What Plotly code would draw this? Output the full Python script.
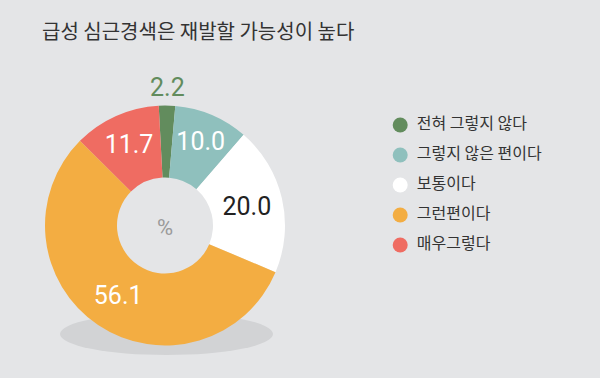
import math
import plotly.graph_objects as go

title_text = "급성 심근경색은 재발할 가능성이 높다"
categories = ["전혀 그렇지 않다", "그렇지 않은 편이다", "보통이다", "그런편이다", "매우그렇다"]
values = [2.2, 10.0, 20.0, 56.1, 11.7]
colors = ["#628c5d", "#8fc0bd", "#ffffff", "#f3ad42", "#ef6c62"]
text_colors = ["#628c5d", "#ffffff", "#222222", "#ffffff", "#ffffff"]
center_label = "%"

BG = "#e4e5e7"
NUM_FONT = "Roboto, sans-serif"
KR_FONT = "Noto Sans CJK KR, Noto Sans, sans-serif"

W, H = 600, 378
ROT = -3.0
dom_x = [0.075, 0.475]
dom_y = [0.086, 0.721]

# small slices get their label outside (placed along the slice's mid-angle)
inside = [v >= 5 for v in values]
texts = [f"{v:.1f}" if ins else "" for v, ins in zip(values, inside)]

fig = go.Figure()
fig.add_trace(go.Pie(
    labels=categories, values=values, sort=False, direction="clockwise",
    rotation=ROT, hole=0.4,
    marker=dict(colors=colors, line=dict(width=0)),
    text=texts, textinfo="text", textposition="inside",
    insidetextorientation="horizontal",
    textfont=dict(family=NUM_FONT, size=25, color=text_colors),
    title=dict(text=center_label, position="middle center",
               font=dict(family=NUM_FONT, size=22, color="#9a9a9a")),
    domain=dict(x=dom_x, y=dom_y),
    showlegend=False, hoverinfo="label+value",
))

# outside labels computed from the data (mid-angle of the slice)
total = sum(values)
cx = (dom_x[0] + dom_x[1]) / 2 * W
cy = (dom_y[0] + dom_y[1]) / 2 * H
R = min((dom_x[1] - dom_x[0]) * W, (dom_y[1] - dom_y[0]) * H) / 2
cum = 0.0
for v, ins, tc in zip(values, inside, text_colors):
    mid = math.radians(ROT + 360 * (cum + v / 2) / total)
    cum += v
    if ins:
        continue
    rr = R + 18
    fig.add_annotation(
        x=(cx + rr * math.sin(mid)) / W, y=(cy + rr * math.cos(mid)) / H,
        xref="paper", yref="paper", text=f"{v:.1f}", showarrow=False,
        xanchor="center", yanchor="middle",
        font=dict(family=NUM_FONT, size=25, color=tc))

# legend drawn as a marker column with labels
fig.add_trace(go.Scatter(
    x=[0] * len(categories), y=categories, mode="markers+text",
    text=["\u00a0\u2006" + c for c in categories], textposition="middle right",
    textfont=dict(family=KR_FONT, size=16, color="#333333"),
    marker=dict(size=15, color=colors, symbol="circle", line=dict(width=0)),
    showlegend=False, hoverinfo="skip", cliponaxis=False,
))

fig.add_shape(type="circle", xref="paper", yref="paper",
              x0=60/600, x1=273/600, y0=1-355/378, y1=1-313/378,
              fillcolor="#d2d3d5", line=dict(width=0), layer="below")

fig.update_layout(
    width=W, height=H,
    paper_bgcolor=BG, plot_bgcolor="rgba(0,0,0,0)",
    margin=dict(l=0, r=0, t=0, b=0),
    title=dict(text=title_text, x=42/600, xanchor="left", y=1-32/378, yanchor="middle",
               font=dict(family=KR_FONT, size=20, color="#333333")),
    xaxis=dict(visible=False, domain=[0.64, 1.0], range=[-0.75, 9.25], fixedrange=True),
    yaxis=dict(visible=False, domain=[1-260/378, 1-110/378], type="category",
               range=[4.5, -0.5], fixedrange=True),
    showlegend=False,
)
fig.write_html("out.html", config={"displayModeBar": False},
               post_script="document.body.style.margin='0';")
